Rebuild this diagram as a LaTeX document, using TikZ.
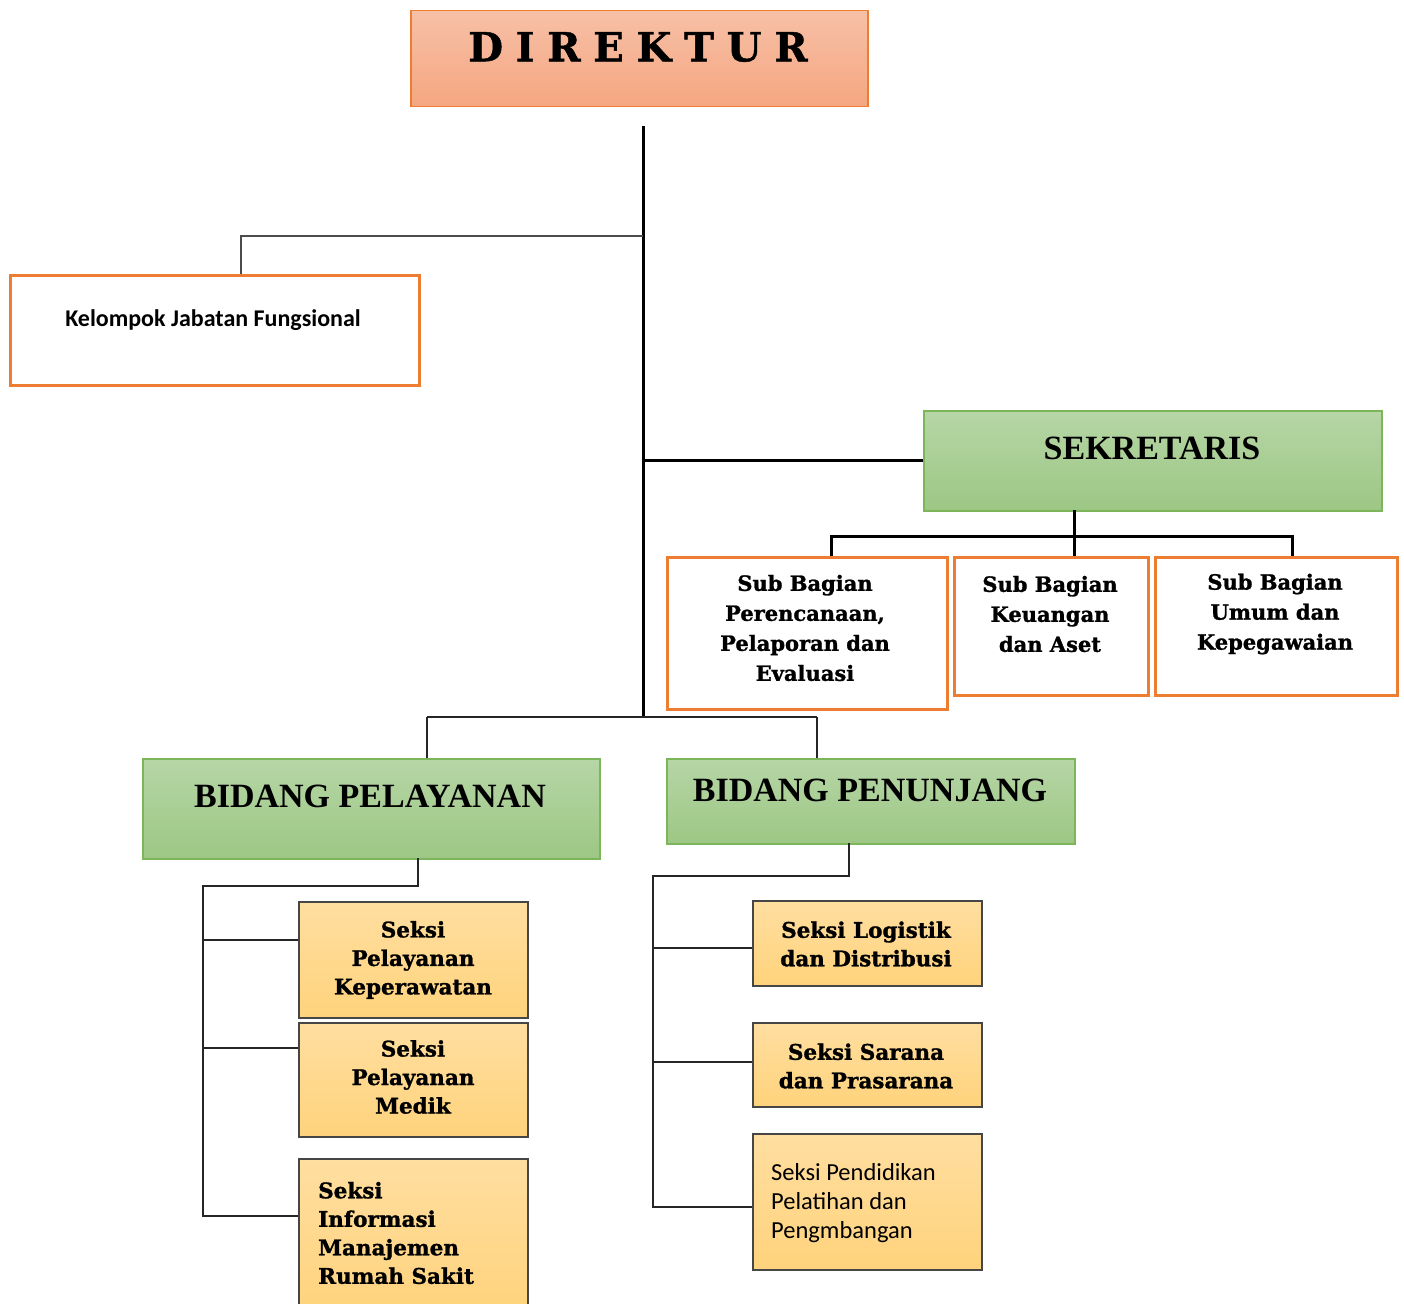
\documentclass[tikz,border=0pt]{standalone}
\usepackage{fontspec}
\usepackage{xcolor}
\newfontfamily\bookfont{DejaVu Serif}[BoldFeatures={FakeBold=1.2}]
\newfontfamily\romfont{Liberation Serif}
\newfontfamily\calfont{Carlito}
\definecolor{borange}{RGB}{237,125,49}
\definecolor{otop}{RGB}{247,192,167}
\definecolor{obot}{RGB}{245,166,128}
\definecolor{bgreen}{RGB}{125,182,90}
\definecolor{gtop}{RGB}{182,214,166}
\definecolor{gbot}{RGB}{157,199,132}
\definecolor{ytop}{RGB}{255,222,160}
\definecolor{ybot}{RGB}{255,211,124}
\definecolor{bgray}{RGB}{70,70,70}

\begin{document}
\begin{tikzpicture}[x=1pt,y=-1pt,
    box/.style={rectangle,anchor=north west,inner sep=0pt},
    dirbox/.style={box,draw=borange,line width=1.5pt,top color=otop,bottom color=obot},
    whitebox/.style={box,draw=borange,line width=2.5pt,fill=white},
    greenbox/.style={box,draw=bgreen,line width=1.5pt,top color=gtop,bottom color=gbot},
    goldbox/.style={box,draw=bgray,line width=1.5pt,top color=ytop,bottom color=ybot},
    booktext/.style={align=center,inner sep=0pt,font=\bookfont\bfseries\fontsize{21}{30}\selectfont},
    seksitext/.style={align=center,inner sep=0pt,font=\bookfont\bfseries\fontsize{21.5}{28.5}\selectfont},
    romtext/.style={inner sep=0pt,font=\romfont\bfseries\fontsize{34}{40}\selectfont},
    caltext/.style={align=left,inner sep=0pt,font=\calfont\fontsize{24.5}{29}\selectfont},
    trunk/.style={line width=3pt},
    link/.style={line width=2pt,black!85}]

\useasboundingbox (0,0) rectangle (1404,1303);

\node[dirbox,minimum width=457pt,minimum height=96pt] (dir) at (410,10) {};
\node[inner sep=0pt,font=\bookfont\bfseries\fontsize{40}{40}\selectfont\addfontfeature{LetterSpace=32}] (dirtext) at (638,47) {DIREKTUR};

\node[whitebox,minimum width=409pt,minimum height=110pt] (kjf) at (9,274) {};
\node[inner sep=0pt,font=\calfont\bfseries\fontsize{24}{26}\selectfont] (kjftext) at (213,320) {Kelompok Jabatan Fungsional};

\node[greenbox,minimum width=458pt,minimum height=100pt] (sekr) at (923,410) {};
\node[romtext] (sekrtext) at (1152,448) {SEKRETARIS};

\node[whitebox,minimum width=280pt,minimum height=152pt] (sbp) at (666,556) {};
\node[whitebox,minimum width=194pt,minimum height=138pt] (sbk) at (953,556) {};
\node[whitebox,minimum width=242pt,minimum height=138pt] (sbu) at (1154,556) {};
\node[booktext] (sbptext) at (805,628) {Sub Bagian\\Perencanaan,\\Pelaporan dan\\Evaluasi};
\node[booktext] (sbktext) at (1050,614) {Sub Bagian\\Keuangan\\dan Aset};
\node[booktext] (sbutext) at (1275,614) {Sub Bagian\\Umum dan\\Kepegawaian};

\node[greenbox,minimum width=457pt,minimum height=100pt] (bpel) at (142,758) {};
\node[greenbox,minimum width=408pt,minimum height=85pt] (bpen) at (666,758) {};
\node[romtext] (bpeltext) at (370,796) {BIDANG PELAYANAN};
\node[romtext] (bpentext) at (870,790) {BIDANG PENUNJANG};

\node[goldbox,minimum width=229pt,minimum height=116pt] (spk) at (298,901) {};
\node[goldbox,minimum width=229pt,minimum height=114pt] (spm) at (298,1022) {};
\node[goldbox,minimum width=229pt,minimum height=156pt] (sim) at (298,1158) {};
\node[seksitext] (spktext) at (413,960) {Seksi\\Pelayanan\\Keperawatan};
\node[seksitext] (spmtext) at (413,1077) {Seksi\\Pelayanan\\Medik};
\node[seksitext,align=left,anchor=west] (simtext) at (318,1233) {Seksi\\Informasi\\Manajemen\\Rumah Sakit};

\node[goldbox,minimum width=229pt,minimum height=85pt] (slg) at (752,900) {};
\node[goldbox,minimum width=229pt,minimum height=84pt] (ssp) at (752,1022) {};
\node[goldbox,minimum width=229pt,minimum height=136pt] (spp) at (752,1133) {};
\node[seksitext] (slgtext) at (866,944) {Seksi Logistik\\dan Distribusi};
\node[seksitext] (ssptext) at (866,1066) {Seksi Sarana\\dan Prasarana};
\node[caltext,anchor=west] (spptext) at (771,1203) {Seksi Pendidikan\\Pelatihan dan\\Pengmbangan};

\coordinate (top) at (643,126);
\coordinate (hub) at (643,717);
\coordinate (kjfup) at (241,274);
\coordinate (sekrdown) at (1074,510);
\coordinate (bpeldown) at (418,858);
\coordinate (bpendown) at (849,843);
\coordinate (leftrail) at (203,886);
\coordinate (rightrail) at (653,876);

\draw[trunk] (top) -- (hub);
\draw[link,black!70] (top |- 0,236) -| (kjfup);
\draw[trunk] (top |- sekr.west) -- (sekr.west);
\draw[trunk] (sekrdown) -- (sekrdown |- sbk.north);
\draw[trunk] (sbp.north -| 831,0) |- (sekrdown |- 0,536) -| (sbu.north -| 1292,0);
\draw[link] (hub -| 427,0) -- (hub -| 817,0);
\draw[link] (hub -| 427,0) -- (bpel.north -| 427,0);
\draw[link] (hub -| 817,0) -- (bpen.north -| 817,0);

\draw[link] (bpeldown) |- (leftrail) |- (sim.west |- 0,1216);
\draw[link] (leftrail |- 0,940) -- (spk.west |- 0,940);
\draw[link] (leftrail |- 0,1048) -- (spm.west |- 0,1048);

\draw[link] (bpendown) |- (rightrail) |- (spp.west |- 0,1207);
\draw[link] (rightrail |- 0,948) -- (slg.west |- 0,948);
\draw[link] (rightrail |- 0,1062) -- (ssp.west |- 0,1062);
\end{tikzpicture}
\end{document}
